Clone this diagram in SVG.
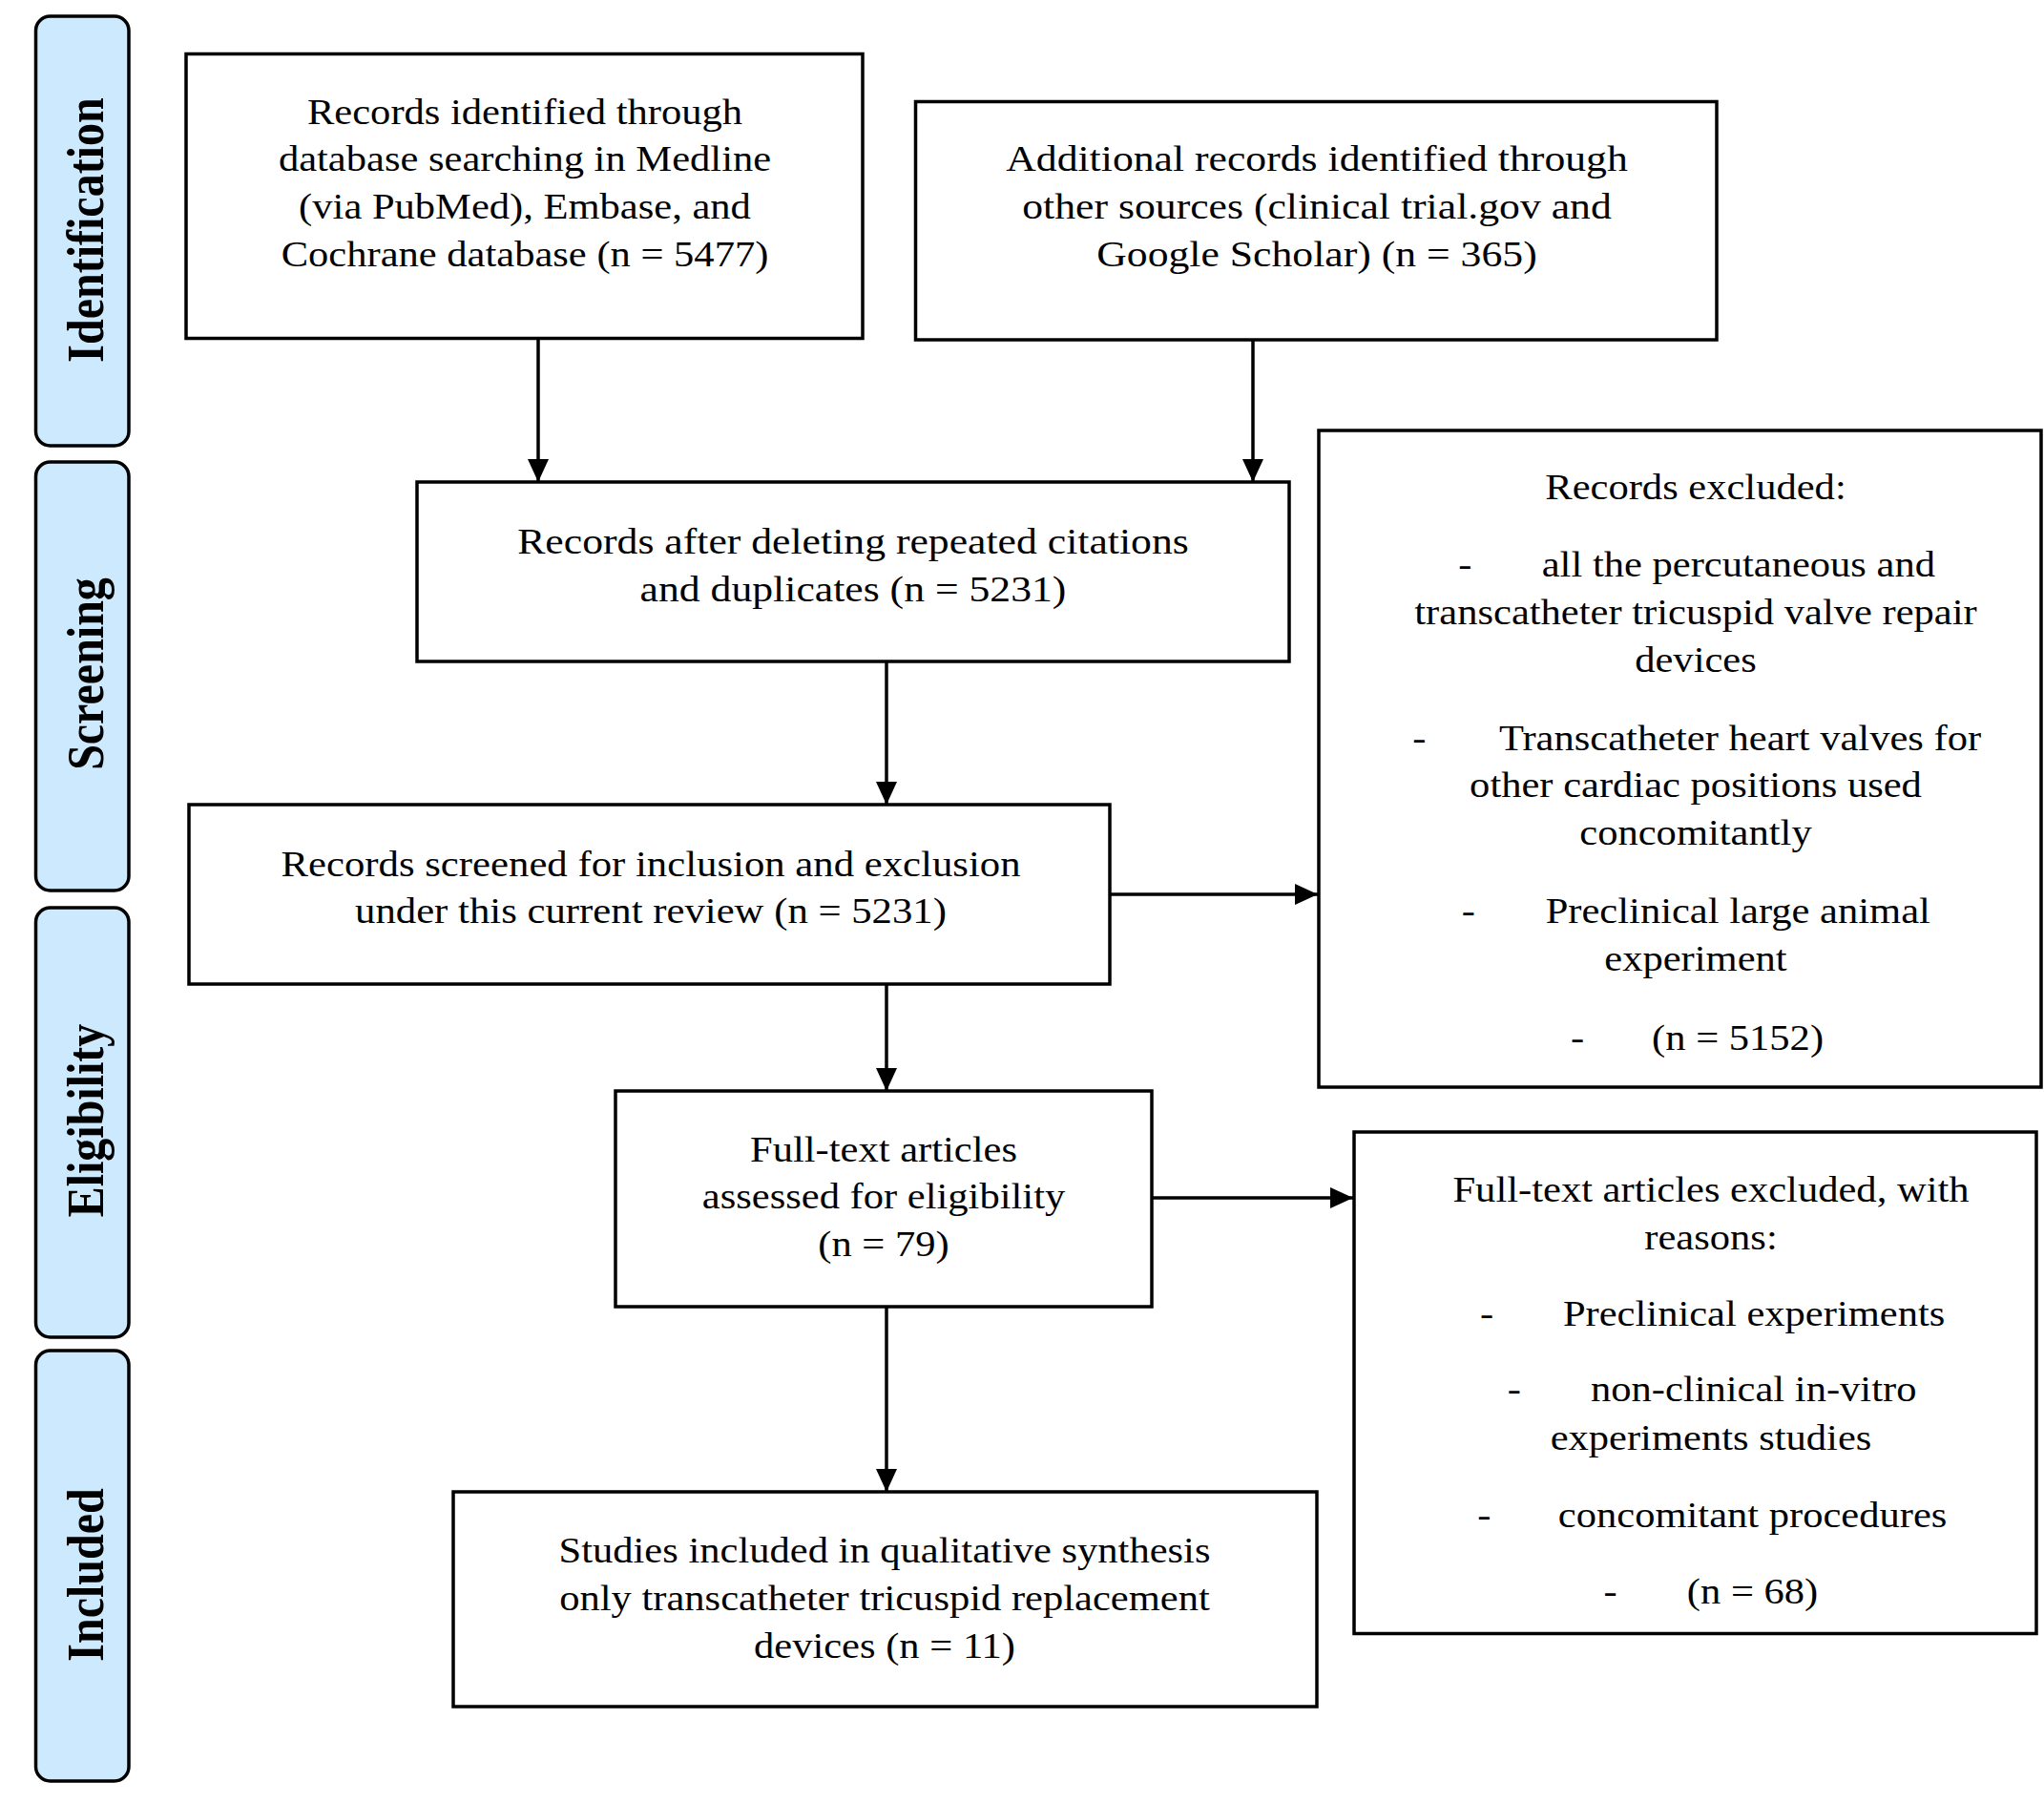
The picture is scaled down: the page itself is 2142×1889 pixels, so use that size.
<svg xmlns="http://www.w3.org/2000/svg" width="2142" height="1889" viewBox="0 0 2142 1889">
<style>
.bg{fill:#ffffff}
.lane{fill:#cce9fe;stroke:#000;stroke-width:3.5}
.box{fill:#ffffff;stroke:#000;stroke-width:3.5}
.lt{font-family:"Liberation Serif","Times New Roman",serif;font-weight:bold;font-size:48px;fill:#000;text-anchor:middle}
.t{font-family:"Liberation Serif","Times New Roman",serif;font-size:38px;fill:#000}
.m{text-anchor:middle}
.conn{stroke:#000;stroke-width:3.5;fill:none}
</style>
<defs>
<marker id="ah" markerUnits="userSpaceOnUse" markerWidth="24" markerHeight="22" refX="24" refY="11" orient="auto">
<path d="M0,0 L24,11 L0,22 z" fill="#000"/>
</marker>
</defs>
<rect class="bg" x="0" y="0" width="2142" height="1889"/>

<g id="lane-identification">
<rect class="lane" x="37.5" y="17" width="97.5" height="450" rx="15"/>
<text class="lt" transform="translate(108,241) rotate(-90) scale(1,1.13)">Identification</text>
</g>
<g id="lane-screening">
<rect class="lane" x="37.5" y="484" width="97.5" height="449" rx="15"/>
<text class="lt" transform="translate(108,706) rotate(-90) scale(1,1.13)">Screening</text>
</g>
<g id="lane-eligibility">
<rect class="lane" x="37.5" y="951" width="97.5" height="450" rx="15"/>
<text class="lt" transform="translate(108,1174) rotate(-90) scale(1,1.13)">Eligibility</text>
</g>
<g id="lane-included">
<rect class="lane" x="37.5" y="1415" width="97.5" height="451" rx="15"/>
<text class="lt" transform="translate(108,1650) rotate(-90) scale(1,1.13)">Included</text>
</g>

<g id="connectors">
<line class="conn" x1="564" y1="354.5" x2="564" y2="505" marker-end="url(#ah)"/>
<line class="conn" x1="1313" y1="356" x2="1313" y2="505" marker-end="url(#ah)"/>
<line class="conn" x1="929" y1="693" x2="929" y2="843" marker-end="url(#ah)"/>
<line class="conn" x1="1163" y1="937" x2="1381" y2="937" marker-end="url(#ah)"/>
<line class="conn" x1="929" y1="1031" x2="929" y2="1143" marker-end="url(#ah)"/>
<line class="conn" x1="1207" y1="1255" x2="1418" y2="1255" marker-end="url(#ah)"/>
<line class="conn" x1="929" y1="1369" x2="929" y2="1563" marker-end="url(#ah)"/>
</g>

<g id="node-records-identified">
<rect class="box" x="195" y="56.5" width="709" height="298"/>
<g transform="translate(550,0) scale(1.12,1)">
<text class="t m" x="0" y="130">Records identified through</text>
<text class="t m" x="0" y="179.5">database searching in Medline</text>
<text class="t m" x="0" y="229.5">(via PubMed), Embase, and</text>
<text class="t m" x="0" y="279">Cochrane database (n = 5477)</text>
</g>
</g>

<g id="node-additional-records">
<rect class="box" x="959.5" y="106.5" width="839.5" height="249.5"/>
<g transform="translate(1380,0) scale(1.15,1)">
<text class="t m" x="0" y="179.5">Additional records identified through</text>
<text class="t m" x="0" y="229.5">other sources (clinical trial.gov and</text>
<text class="t m" x="0" y="279">Google Scholar) (n = 365)</text>
</g>
</g>

<g id="node-after-duplicates">
<rect class="box" x="437" y="505" width="914" height="188"/>
<g transform="translate(894,0) scale(1.15,1)">
<text class="t m" x="0" y="580">Records after deleting repeated citations</text>
<text class="t m" x="0" y="630">and duplicates (n = 5231)</text>
</g>
</g>

<g id="node-screened">
<rect class="box" x="198" y="843" width="965" height="188"/>
<g transform="translate(682,0) scale(1.125,1)">
<text class="t m" x="0" y="918">Records screened for inclusion and exclusion</text>
<text class="t m" x="0" y="967.5">under this current review (n = 5231)</text>
</g>
</g>

<g id="node-records-excluded">
<rect class="box" x="1382" y="451" width="757" height="688"/>
<g transform="translate(1777,0) scale(1.12,1)">
<text class="t m" x="0" y="523">Records excluded:</text>
<text class="t" x="-222" y="604">-</text>
<text class="t" x="-144" y="604">all the percutaneous and</text>
<text class="t m" x="0" y="654">transcatheter tricuspid valve repair</text>
<text class="t m" x="0" y="704">devices</text>
<text class="t" x="-265" y="786">-</text>
<text class="t" x="-184" y="786">Transcatheter heart valves for</text>
<text class="t m" x="0" y="835.5">other cardiac positions used</text>
<text class="t m" x="0" y="885">concomitantly</text>
<text class="t" x="-219" y="967.5">-</text>
<text class="t" x="-140.5" y="967.5">Preclinical large animal</text>
<text class="t m" x="0" y="1017">experiment</text>
<text class="t" x="-117" y="1100">-</text>
<text class="t" x="-41" y="1100">(n = 5152)</text>
</g>
</g>

<g id="node-assessed">
<rect class="box" x="645" y="1143" width="562" height="226"/>
<g transform="translate(926,0) scale(1.12,1)">
<text class="t m" x="0" y="1217">Full-text articles</text>
<text class="t m" x="0" y="1266">assessed for eligibility</text>
<text class="t m" x="0" y="1316">(n = 79)</text>
</g>
</g>

<g id="node-fulltext-excluded">
<rect class="box" x="1419" y="1186" width="715" height="525.5"/>
<g transform="translate(1793,0) scale(1.12,1)">
<text class="t m" x="0" y="1259.5">Full-text articles excluded, with</text>
<text class="t m" x="0" y="1309">reasons:</text>
<text class="t" x="-216" y="1389.5">-</text>
<text class="t" x="-138.5" y="1389.5">Preclinical experiments</text>
<text class="t" x="-190.5" y="1468.5">-</text>
<text class="t" x="-112.5" y="1468.5">non-clinical in-vitro</text>
<text class="t m" x="0" y="1519.5">experiments studies</text>
<text class="t" x="-218.5" y="1600">-</text>
<text class="t" x="-143" y="1600">concomitant procedures</text>
<text class="t" x="-100.5" y="1680">-</text>
<text class="t" x="-22.5" y="1680">(n = 68)</text>
</g>
</g>

<g id="node-included">
<rect class="box" x="475" y="1563" width="905" height="225"/>
<g transform="translate(927,0) scale(1.12,1)">
<text class="t m" x="0" y="1637">Studies included in qualitative synthesis</text>
<text class="t m" x="0" y="1687">only transcatheter tricuspid replacement</text>
<text class="t m" x="0" y="1737">devices (n = 11)</text>
</g>
</g>
</svg>
